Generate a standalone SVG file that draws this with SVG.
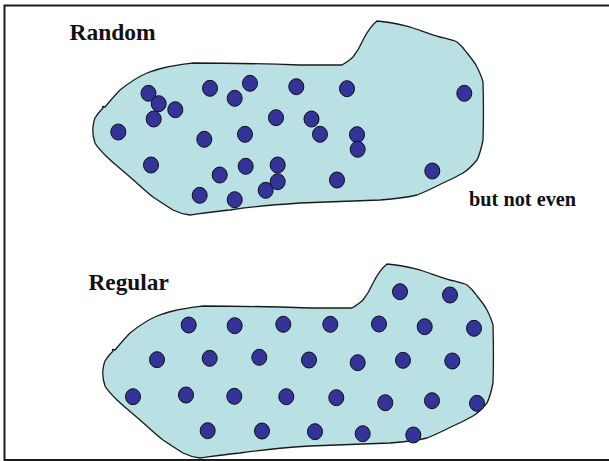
<svg xmlns="http://www.w3.org/2000/svg" xmlns:xlink="http://www.w3.org/1999/xlink" width="609" height="461" viewBox="0 0 609 461">
<style>
.blob{fill:#B9E0E3;stroke:#1a1a1a;stroke-width:1.3;stroke-linejoin:round}
.dot{fill:#333399;stroke:#111;stroke-width:1}
.lbl{font-family:"Liberation Serif","Times New Roman",serif;font-weight:bold;fill:#111}
</style>
<defs>
<path id="blobShape" d="M377,21 C392,22 402,25 410,27 C422,31 432,35 440,37 C448,39 453,40 457,42 C462,46 465,50 467,53 C472,59 475,63 477,67 C480,73 482,78 483,82 C483.5,100 483.5,125 483,140 C481,150 479,156 477,160 C472,166 468,170 463,173 C456,177 450,180 443,183 C433,188 425,192 417,195 C405,198 393,199 380,200 C350,201 325,202 300,203 C270,205 250,207 230,210 C210,212 198,214 190,215 C182,214 177,212 173,210 C165,205 159,201 153,197 C144,190 137,183 130,177 C120,168 112,162 107,157 C101,151 97,147 95,143 C93,137 92.5,131 93,127 C93.5,123 94,120 95,118 C98,113 101,110 103,108 L102.5,106.5 L105,107 C110,101 115,95 120,90 C130,82 140,76 147,73 C153,71 158,69 163,68 C175,65 185,64 193,63 C230,63 270,64 300,65 C320,65 332,65 342,65 C347,62 350,60 353,57 C357,52 360,47 363,40 C367,32 372,25 377,21 Z"/>
</defs>
<path id="frame" d="M609,5.5 H4.5 V460 H609" fill="none" stroke="#1a1a1a" stroke-width="2"/>

<g id="random-region">
<use xlink:href="#blobShape" class="blob"/>
</g>
<g id="regular-region">
<use xlink:href="#blobShape" class="blob" transform="translate(10,243)"/>
</g>

<g id="random-points">
<ellipse class="dot" cx="148.5" cy="93.3" rx="7.5" ry="8"/>
<ellipse class="dot" cx="158.7" cy="103.7" rx="7.5" ry="8"/>
<ellipse class="dot" cx="175.3" cy="109.7" rx="7.5" ry="8"/>
<ellipse class="dot" cx="153.7" cy="119" rx="7.5" ry="8"/>
<ellipse class="dot" cx="118.3" cy="132" rx="7.5" ry="8"/>
<ellipse class="dot" cx="210" cy="88.3" rx="7.5" ry="8"/>
<ellipse class="dot" cx="234.7" cy="98.3" rx="7.5" ry="8"/>
<ellipse class="dot" cx="250" cy="83.3" rx="7.5" ry="8"/>
<ellipse class="dot" cx="296.3" cy="86.7" rx="7.5" ry="8"/>
<ellipse class="dot" cx="347" cy="88.7" rx="7.5" ry="8"/>
<ellipse class="dot" cx="464.3" cy="93.3" rx="7.5" ry="8"/>
<ellipse class="dot" cx="276" cy="117.7" rx="7.5" ry="8"/>
<ellipse class="dot" cx="311.5" cy="119" rx="7.5" ry="8"/>
<ellipse class="dot" cx="320" cy="134.3" rx="7.5" ry="8"/>
<ellipse class="dot" cx="357" cy="134.7" rx="7.5" ry="8"/>
<ellipse class="dot" cx="357.7" cy="149.3" rx="7.5" ry="8"/>
<ellipse class="dot" cx="204.3" cy="139.3" rx="7.5" ry="8"/>
<ellipse class="dot" cx="245" cy="134.3" rx="7.5" ry="8"/>
<ellipse class="dot" cx="151" cy="165" rx="7.5" ry="8"/>
<ellipse class="dot" cx="219.7" cy="175" rx="7.5" ry="8"/>
<ellipse class="dot" cx="245.7" cy="166.3" rx="7.5" ry="8"/>
<ellipse class="dot" cx="277.7" cy="165" rx="7.5" ry="8"/>
<ellipse class="dot" cx="265.7" cy="190.3" rx="7.5" ry="8"/>
<ellipse class="dot" cx="277.7" cy="181.7" rx="7.5" ry="8"/>
<ellipse class="dot" cx="199.7" cy="195.3" rx="7.5" ry="8"/>
<ellipse class="dot" cx="234.7" cy="199.7" rx="7.5" ry="8"/>
<ellipse class="dot" cx="337" cy="180" rx="7.5" ry="8"/>
<ellipse class="dot" cx="432.3" cy="171" rx="7.5" ry="8"/>
</g>

<g id="regular-points">
<ellipse class="dot" cx="400" cy="291.7" rx="7.5" ry="8"/>
<ellipse class="dot" cx="450" cy="295" rx="7.5" ry="8"/>
<ellipse class="dot" cx="188.7" cy="325" rx="7.5" ry="8"/>
<ellipse class="dot" cx="234.7" cy="325.7" rx="7.5" ry="8"/>
<ellipse class="dot" cx="283.3" cy="324.3" rx="7.5" ry="8"/>
<ellipse class="dot" cx="330.3" cy="324.3" rx="7.5" ry="8"/>
<ellipse class="dot" cx="379" cy="324" rx="7.5" ry="8"/>
<ellipse class="dot" cx="424.7" cy="326.7" rx="7.5" ry="8"/>
<ellipse class="dot" cx="474" cy="328.3" rx="7.5" ry="8"/>
<ellipse class="dot" cx="157" cy="359.7" rx="7.5" ry="8"/>
<ellipse class="dot" cx="209.7" cy="358.3" rx="7.5" ry="8"/>
<ellipse class="dot" cx="259.3" cy="357.3" rx="7.5" ry="8"/>
<ellipse class="dot" cx="309" cy="360" rx="7.5" ry="8"/>
<ellipse class="dot" cx="357.7" cy="362.7" rx="7.5" ry="8"/>
<ellipse class="dot" cx="403" cy="360.3" rx="7.5" ry="8"/>
<ellipse class="dot" cx="452.3" cy="361" rx="7.5" ry="8"/>
<ellipse class="dot" cx="133" cy="396.7" rx="7.5" ry="8"/>
<ellipse class="dot" cx="186" cy="395" rx="7.5" ry="8"/>
<ellipse class="dot" cx="234.3" cy="396.3" rx="7.5" ry="8"/>
<ellipse class="dot" cx="286.3" cy="396.7" rx="7.5" ry="8"/>
<ellipse class="dot" cx="336.3" cy="397.7" rx="7.5" ry="8"/>
<ellipse class="dot" cx="385.3" cy="402.7" rx="7.5" ry="8"/>
<ellipse class="dot" cx="432" cy="400.7" rx="7.5" ry="8"/>
<ellipse class="dot" cx="477" cy="403.3" rx="7.5" ry="8"/>
<ellipse class="dot" cx="207.7" cy="430.7" rx="7.5" ry="8"/>
<ellipse class="dot" cx="262" cy="431" rx="7.5" ry="8"/>
<ellipse class="dot" cx="315" cy="431.7" rx="7.5" ry="8"/>
<ellipse class="dot" cx="362.7" cy="433.7" rx="7.5" ry="8"/>
<ellipse class="dot" cx="413.3" cy="435" rx="7.5" ry="8"/>
</g>

<g id="labels">
<text class="lbl" x="69.5" y="39.5" font-size="23.5">Random</text>
<text class="lbl" x="469" y="205.5" font-size="20.3">but not even</text>
<text class="lbl" x="88.5" y="290" font-size="23.3">Regular</text>
</g>
</svg>
